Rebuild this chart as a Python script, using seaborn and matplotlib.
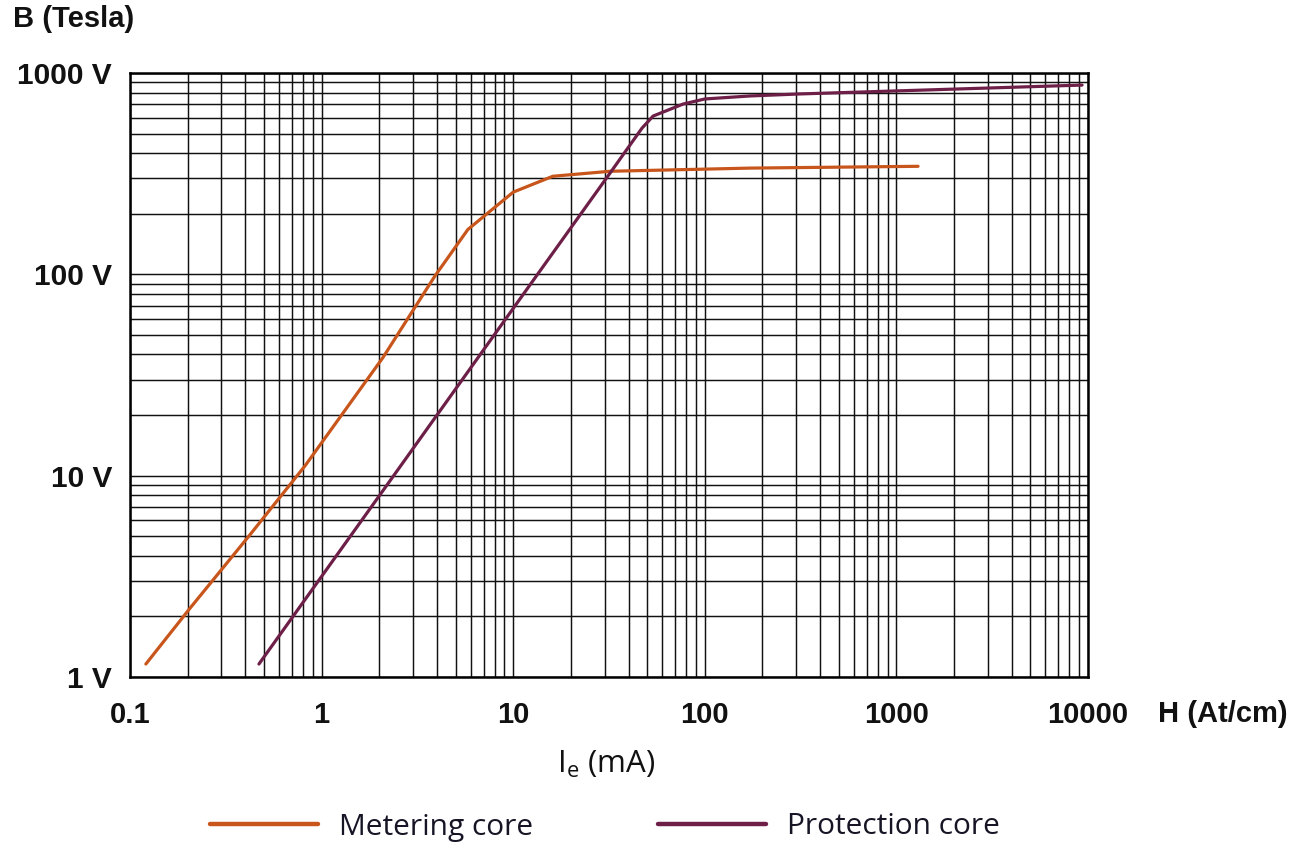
import numpy as np
import pandas as pd
import matplotlib
matplotlib.use("Agg")
import matplotlib.pyplot as plt
import seaborn as sns
from matplotlib.ticker import FixedLocator, LogLocator, NullFormatter
from matplotlib.font_manager import FontProperties

# ---- data ----
metering_H = [0.121, 0.206, 0.423, 0.82, 2.09, 3.26, 3.9, 5.8, 10, 16.1, 32, 172, 1297]
metering_V = [1.16, 2.2, 5.09, 11.2, 38.6, 75, 98, 167, 256, 307, 325, 337, 344]

protection_H = [0.471, 2.02, 13.4, 32, 47, 53.7, 77, 100, 172, 314, 9310]
protection_V = [1.16, 8.05, 100, 318, 532, 611, 701, 743, 769, 787, 871]

series_names = ["Metering core", "Protection core"]
series_colors = ["#C8561C", "#6E1F48"]

x_ticks = [0.1, 1, 10, 100, 1000, 10000]
x_tick_labels = ["0.1", "1", "10", "100", "1000", "10000"]
y_ticks = [1, 10, 100, 1000]
y_tick_labels = ["1 V", "10 V", "100 V", "1000 V"]

# ---- build table ----
df = pd.concat([
    pd.DataFrame({"H": metering_H, "V": metering_V, "core": series_names[0]}),
    pd.DataFrame({"H": protection_H, "V": protection_V, "core": series_names[1]}),
], ignore_index=True)

sns.set_style("white")
plt.rcParams["font.family"] = ["Liberation Sans", "DejaVu Sans"]
plt.rcParams["mathtext.fontset"] = "custom"
plt.rcParams["mathtext.rm"] = "Open Sans"

W, H = 1299, 842
fig = plt.figure(figsize=(W / 100, H / 100), dpi=100)
ax = fig.add_axes([130 / W, 1 - 677 / H, 958 / W, 604 / H])

sns.lineplot(data=df, x="H", y="V", hue="core",
             palette=dict(zip(series_names, series_colors)),
             estimator=None, sort=False, linewidth=2.3, ax=ax)

ax.set_xscale("log")
ax.set_yscale("log")
ax.set_xlim(0.1, 10000)
ax.set_ylim(1, 1000)

ax.xaxis.set_major_locator(FixedLocator(x_ticks))
ax.set_xticklabels(x_tick_labels)
ax.yaxis.set_major_locator(FixedLocator(y_ticks))
ax.set_yticklabels(y_tick_labels)
for axis in (ax.xaxis, ax.yaxis):
    axis.set_minor_locator(LogLocator(base=10, subs=np.arange(2, 10)))
    axis.set_minor_formatter(NullFormatter())

ax.grid(which="both", color="#111111", linewidth=1.05)
ax.set_axisbelow(True)
ax.tick_params(which="both", length=0)
ax.tick_params(axis="x", pad=17, labelsize=21)
ax.tick_params(axis="y", pad=13, labelsize=21.5)
for lab in ax.get_xticklabels() + ax.get_yticklabels():
    lab.set_fontweight("bold")
    lab.set_color("#111111")
for sp in ax.spines.values():
    sp.set_visible(True)
    sp.set_color("black")
    sp.set_linewidth(1.8)
ax.set_xlabel("")
ax.set_ylabel("")

fig.text(13 / W, 1 - 19 / H, "B (Tesla)", ha="left", va="center",
         fontsize=21, fontweight="bold", color="#111111")
fig.text(1158 / W, 1 - 714 / H, "H (At/cm)", ha="left", va="center",
         fontsize=21, fontweight="bold", color="#111111")
fig.text(606 / W, 1 - 773 / H, r"I$_\mathregular{e}$ (mA)", ha="center", va="baseline",
         fontsize=22.5, family="Open Sans", color="#111111")

handles, labels = ax.get_legend_handles_labels()
if ax.get_legend() is not None:
    ax.get_legend().remove()
leg = fig.legend(handles, labels, loc="center", bbox_to_anchor=(605 / W, 1 - 827 / H),
                 ncol=2, frameon=False, prop=FontProperties(family="Open Sans", size=21.5),
                 handlelength=3.6, handletextpad=0.7, columnspacing=4.2, borderpad=0)
for h in leg.get_lines():
    h.set_linewidth(3.2)
for t in leg.get_texts():
    t.set_color("#151525")

fig.savefig("out.png", dpi=100)
